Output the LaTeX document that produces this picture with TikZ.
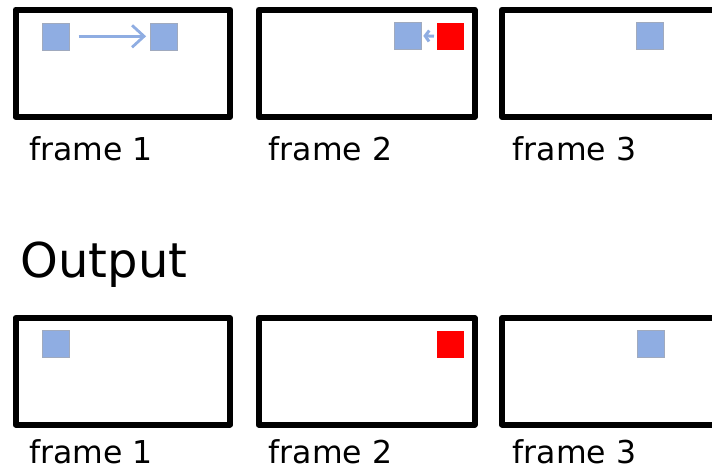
\documentclass[tikz,border=0pt]{standalone}
\usepackage{fontspec}
\setmainfont{DejaVu Sans}
\usetikzlibrary{arrows.meta}
\definecolor{boxblue}{RGB}{143,173,226}
\definecolor{boxedge}{RGB}{160,170,190}

\begin{document}
\begin{tikzpicture}[x=1pt,y=-1pt,
    frame/.style={line width=6pt, line join=round},
    blk/.style={minimum size=27pt, inner sep=0pt, outer sep=0pt, fill=#1},
    lbl/.style={anchor=base west, inner sep=0pt, font=\fontsize{31.5}{31.5}\selectfont}]
    \useasboundingbox (0,0) rectangle (712,470);
    \clip (0,0) rectangle (712,470);
    % frames, input row and output row
    \foreach \x/\w in {15.5/214.5, 258.7/216, 502/216} {
        \draw[frame] (\x,9.7) rectangle ++(\w,107.3);
        \draw[frame] (\x,318) rectangle ++(\w,106.5);
    }
    % input
    \node[blk=boxblue, draw=boxedge, line width=0.5pt] (in1a) at (55.3,36.3) {};
    \node[blk=boxblue, draw=boxedge, line width=0.5pt] (in1b) at (163.6,36.3) {};
    \node[blk=boxblue, draw=boxedge, line width=0.5pt] (in2a) at (407.5,35.5) {};
    \node[blk=red] (in2b) at (450.2,36.5) {};
    \node[blk=boxblue, draw=boxedge, line width=0.5pt] (in3a) at (650,35.5) {};
    \draw[boxblue, line width=2.8pt, -{Straight Barb[length=12pt,width=22pt]},
        shorten <=9.7pt, shorten >=4pt] (in1a) -- (in1b);
    \draw[boxblue, line width=3pt, -{Straight Barb[length=4pt,width=11pt]},
        shorten <=2.7pt, shorten >=2.3pt] (in2b) -- (in2a);
    \node[lbl] (lin1) at (29.3,161) {frame 1};
    \node[lbl] (lin2) at (268.5,161) {frame 2};
    \node[lbl] (lin3) at (512.5,161) {frame 3};
    % output
    \node[lbl, font=\fontsize{48}{48}\selectfont] (out) at (20.5,278) {Output};
    \node[blk=boxblue, draw=boxedge, line width=0.5pt] (out1) at (55.7,343.8) {};
    \node[blk=red] (out2) at (450.8,344.2) {};
    \node[blk=boxblue, draw=boxedge, line width=0.5pt] (out3) at (650.6,343.4) {};
    \node[lbl] (lout1) at (29.3,463.3) {frame 1};
    \node[lbl] (lout2) at (268.5,463.3) {frame 2};
    \node[lbl] (lout3) at (512.5,463.3) {frame 3};
\end{tikzpicture}
\end{document}
